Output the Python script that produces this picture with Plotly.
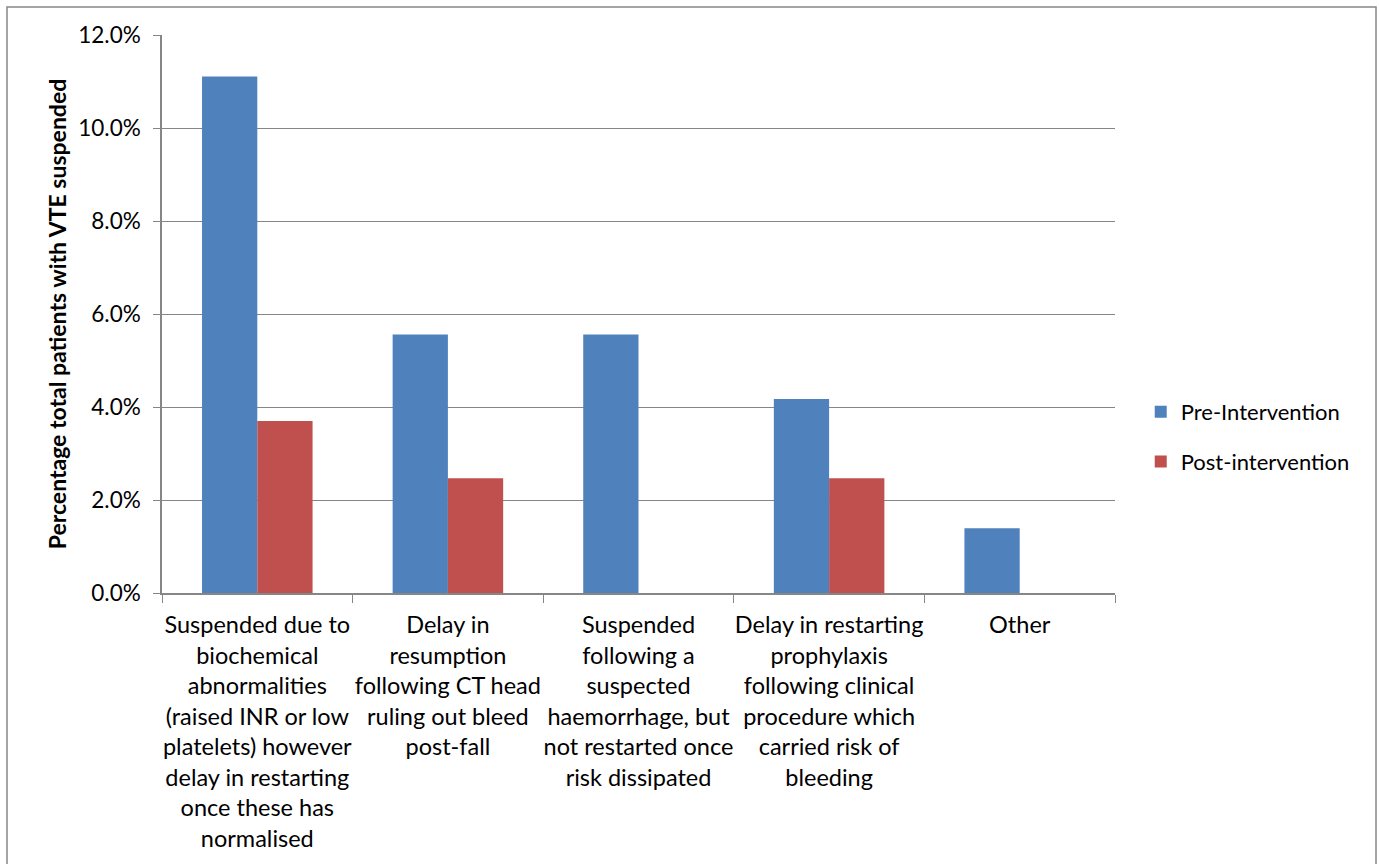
import plotly.graph_objects as go

categories = [
    "Suspended due to<br>biochemical<br>abnormalities<br>(raised INR or low<br>platelets) however<br>delay in restarting<br>once these has<br>normalised",
    "Delay in<br>resumption<br>following CT head<br>ruling out bleed<br>post-fall",
    "Suspended<br>following a<br>suspected<br>haemorrhage, but<br>not restarted once<br>risk dissipated",
    "Delay in restarting<br>prophylaxis<br>following clinical<br>procedure which<br>carried risk of<br>bleeding",
    "Other",
]
pre_intervention = [0.1111, 0.0556, 0.0556, 0.0417, 0.0139]
post_intervention = [0.0370, 0.0247, 0.0, 0.0247, 0.0]
y_ticks = [0, 0.02, 0.04, 0.06, 0.08, 0.10, 0.12]

FONT = "Lato"

fig = go.Figure()
fig.add_trace(go.Bar(name="Pre-Intervention", x=categories, y=pre_intervention,
                     legendgroup="a",
                     marker=dict(color="#4F81BD", line=dict(width=0))))
fig.add_trace(go.Bar(name="Post-intervention", x=categories, y=post_intervention,
                     legendgroup="b",
                     marker=dict(color="#C0504D", line=dict(width=0))))

L, R, T, B = 162, 1115, 35, 593
W, H = 1379, 864

fig.update_layout(
    width=W, height=H,
    autosize=False,
    barmode="group",
    bargap=0.42,
    bargroupgap=0,
    plot_bgcolor="white",
    paper_bgcolor="white",
    font=dict(family=FONT, size=23, color="black"),
    margin=dict(l=L, r=W - R, t=T, b=H - B, pad=0),
    legend=dict(x=1.027, y=(B - 437) / (B - T), xanchor="left", yanchor="middle",
                font=dict(size=22), itemsizing="constant",
                tracegroupgap=18, bgcolor="rgba(0,0,0,0)"),
    xaxis=dict(
        showline=True, linecolor="#868686", linewidth=1.5,
        ticks="outside", ticklen=8, tickcolor="#868686",
        tickson="boundaries", tickangle=0,
        ticklabelstandoff=10,
        showgrid=False,
        tickfont=dict(size=23.5),
    ),
    yaxis=dict(
        range=[0, 0.12],
        tickvals=y_ticks,
        tickformat=".1%",
        showline=True, linecolor="#868686", linewidth=1.5,
        ticks="outside", ticklen=7, tickcolor="#868686",
        ticklabelstandoff=8,
        showgrid=True, gridcolor="#868686", gridwidth=1,
        zeroline=False,
        tickfont=dict(size=22.5),
        title=dict(text="<b>Percentage total patients with VTE suspended</b>",
                   font=dict(size=23), standoff=5),
    ),
    shapes=[dict(type="rect", xref="paper", yref="paper",
                 x0=(7 - L) / (R - L), x1=(1376 - L) / (R - L),
                 y0=(B - 900) / (B - T), y1=(B - 7) / (B - T),
                 line=dict(color="#868686", width=1.5), layer="below")],
)

fig.write_html("out.html")
